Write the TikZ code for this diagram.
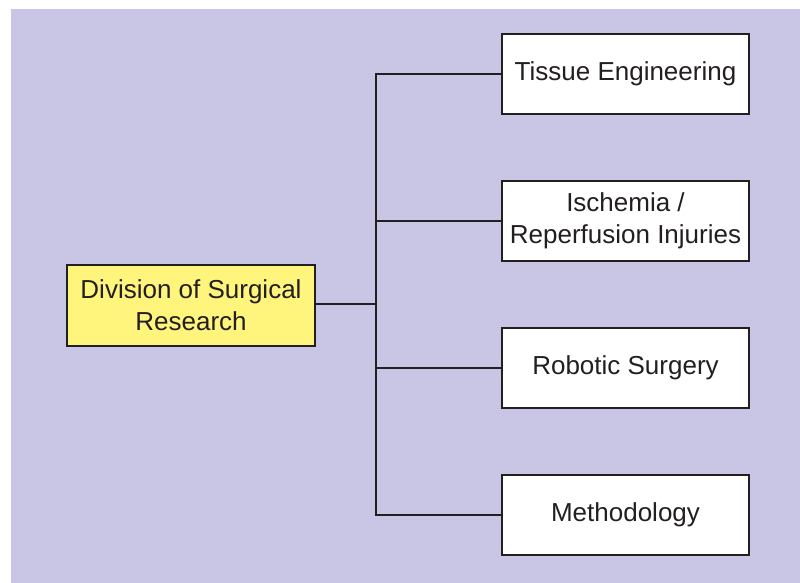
\documentclass[tikz,border=0pt]{standalone}
\usepackage{fontspec}
\setmainfont{Liberation Sans}
\definecolor{panel}{HTML}{C8C6E4}
\definecolor{hub}{HTML}{FFF47C}
\definecolor{ink}{HTML}{231F20}
\begin{document}
\begin{tikzpicture}[x=1pt,y=-1pt,
  box/.style={draw=ink,line width=2.6pt,fill=white,minimum width=247pt,minimum height=80pt,
    align=center,inner sep=0pt,font=\fontsize{26}{32}\selectfont,text=ink},
  hubbox/.style={box,fill=hub,minimum width=248pt,minimum height=81pt},
  link/.style={draw=ink,line width=2.2pt}]
\useasboundingbox (0,0) rectangle (800,583);
\fill[panel] (11,9) rectangle (800,583);
\node[hubbox] (div) at (191,305.5) {Division of Surgical\\Research};
\node[box] (t1) at (625.5,74) {Tissue Engineering};
\node[box] (t2) at (625.5,221) {Ischemia /\\Reperfusion Injuries};
\node[box] (t3) at (625.5,368) {Robotic Surgery};
\node[box] (t4) at (625.5,515) {Methodology};
\coordinate (j) at (376,304);
\draw[link] (div.east |- j) -- (j);
\draw[link] (t1.west) -| (j |- t4.west) -- (t4.west);
\draw[link] (t2.west) -- (j |- t2.west);
\draw[link] (t3.west) -- (j |- t3.west);
\end{tikzpicture}
\end{document}
